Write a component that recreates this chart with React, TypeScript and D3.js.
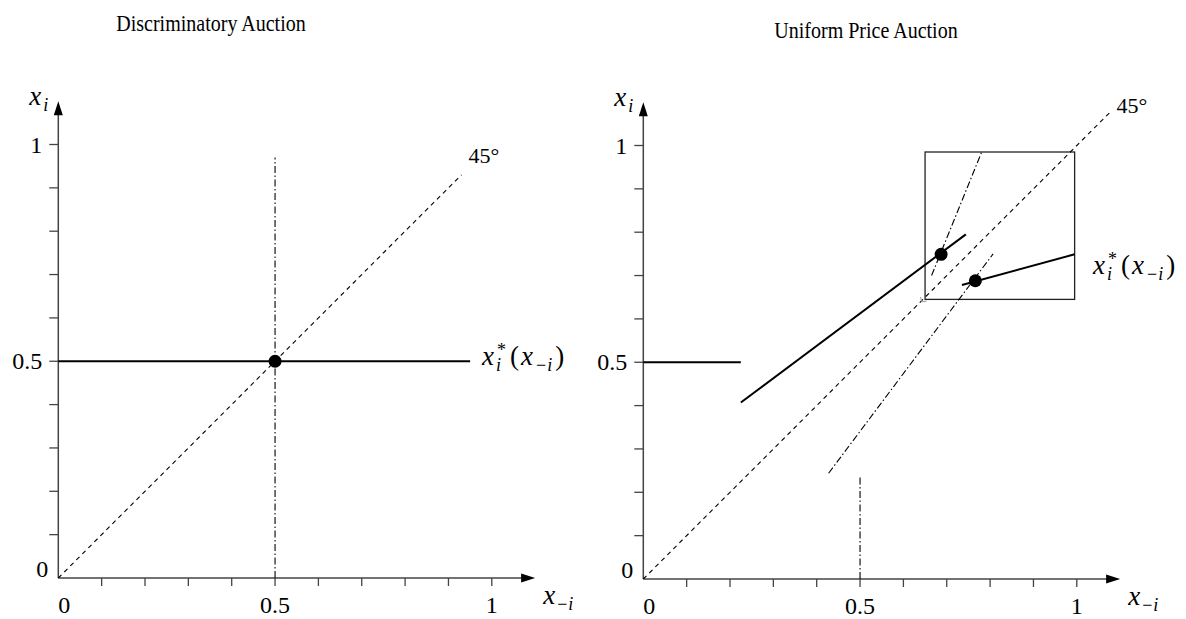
import React from "react";
import * as d3 from "d3";

// Axis ticks and labelled values (shared by both panels)
const minorTicks = [0.1, 0.2, 0.3, 0.4, 0.5, 0.6, 0.7, 0.8, 0.9, 1.0];
const tickLabels = [0, 0.5, 1];
const axisEnd = 1.1;

// Discriminatory auction
const leftDiagonal: [number, number][] = [[0, 0], [0.93, 0.93]];
const leftReaction: [number, number][] = [[0, 0.5], [0.95, 0.5]];
const leftVertical: [number, number][] = [[0.5, 0], [0.5, 0.97]];
const leftEquilibria: [number, number][] = [[0.5, 0.5]];

// Uniform price auction
const rightDiagonal: [number, number][] = [[0, 0], [1.08, 1.08]];
const rightFlat: [number, number][] = [[0, 0.5], [0.225, 0.5]];
const rightRising: [number, number][] = [[0.225, 0.407], [0.744, 0.795]];
const rightShallow: [number, number][] = [[0.735, 0.678], [0.995, 0.749]];
const rightSteepA: [number, number][] = [[0.665, 0.7], [0.781, 0.986]];
const rightSteepB: [number, number][] = [[0.4275, 0.244], [0.807, 0.75]];
const rightVertical: [number, number][] = [[0.5, 0], [0.5, 0.235]];
const rightEquilibria: [number, number][] = [[0.687, 0.749], [0.766, 0.688]];
const rightBox = [0.65, 0.645, 0.995, 0.985]; // x0, y0, x1, y1
const rightCornerMark: [number, number] = [0.642, 0.639];

const UNIT = 433.5;
const SERIF = "'Liberation Serif', 'Times New Roman', serif";
const AXIS = "#444";
const DASH = "4.5,4";
const DASHDOT = "7,2.5,1.5,2.5";
const MATH = 27;
const SUB = 18;

type Scales = { x: d3.ScaleLinear<number, number>; y: d3.ScaleLinear<number, number> };

function makeScales(ox: number, oy: number): Scales {
  return {
    x: d3.scaleLinear().domain([0, 1]).range([ox, ox + UNIT]),
    y: d3.scaleLinear().domain([0, 1]).range([oy, oy - UNIT]),
  };
}

function Seg({ s, pts, dash, width = 1.1, color = "#000" }: { s: Scales; pts: [number, number][]; dash?: string; width?: number; color?: string }) {
  const line = d3.line<[number, number]>().x((d) => s.x(d[0])).y((d) => s.y(d[1]));
  return <path d={line(pts) || ""} fill="none" stroke={color} strokeWidth={width} strokeDasharray={dash} />;
}

function Axes({ s }: { s: Scales }) {
  const x0 = s.x(0), y0 = s.y(0);
  const xe = s.x(axisEnd), ye = s.y(axisEnd);
  return (
    <g>
      <line x1={x0} y1={y0} x2={xe - 10} y2={y0} stroke={AXIS} strokeWidth={1.5} />
      <line x1={x0} y1={y0} x2={x0} y2={ye + 10} stroke={AXIS} strokeWidth={1.5} />
      <path d={`M${xe},${y0} L${xe - 14},${y0 - 4.5} L${xe - 14},${y0 + 4.5} Z`} fill="#000" />
      <path d={`M${x0},${ye} L${x0 - 4.5},${ye + 14} L${x0 + 4.5},${ye + 14} Z`} fill="#000" />
      {minorTicks.map((t) => (
        <g key={t}>
          <line x1={s.x(t)} y1={y0} x2={s.x(t)} y2={y0 + 8} stroke={AXIS} strokeWidth={1.3} />
          <line x1={x0 - 9} y1={s.y(t)} x2={x0} y2={s.y(t)} stroke={AXIS} strokeWidth={1.3} />
        </g>
      ))}
      {tickLabels.map((t) => (
        <text key={"x" + t} x={t === 0 ? x0 + 6 : s.x(t)} y={y0 + 35} fontSize={24} fontFamily={SERIF} textAnchor="middle">
          {t}
        </text>
      ))}
      {tickLabels.map((t) => (
        <text key={"y" + t} x={t === 0 ? x0 - 10 : x0 - 16} y={t === 0 ? y0 - 1 : s.y(t) + 8} fontSize={24} fontFamily={SERIF} textAnchor="end">
          {t}
        </text>
      ))}
      <text x={xe + 8} y={y0 + 26} fontFamily={SERIF} fontSize={MATH}>
        <tspan fontStyle="italic">x</tspan>
        <tspan fontSize={SUB} dx={2} dy={6}>−</tspan>
        <tspan fontSize={SUB} fontStyle="italic" dx={1}>i</tspan>
      </text>
      <text x={x0 - 29} y={ye + 4} fontFamily={SERIF} fontSize={MATH}>
        <tspan fontStyle="italic">x</tspan>
        <tspan fontSize={SUB} fontStyle="italic" dx={2} dy={6}>i</tspan>
      </text>
    </g>
  );
}

function ReactionLabel({ x, y }: { x: number; y: number }) {
  return (
    <g>
      <text x={x} y={y} fontFamily={SERIF} fontSize={MATH}>
        <tspan fontStyle="italic">x</tspan>
        <tspan fontSize={SUB} fontStyle="italic" dx={2} dy={6}>i</tspan>
        <tspan dx={9} dy={-6}>(</tspan>
        <tspan fontStyle="italic" dx={2}>x</tspan>
        <tspan fontSize={SUB} dx={3} dy={6}>−</tspan>
        <tspan fontSize={SUB} fontStyle="italic" dx={1}>i</tspan>
        <tspan dx={3} dy={-6}>)</tspan>
      </text>
      <text x={x + 15} y={y - 9} fontFamily={SERIF} fontSize={SUB}>
        *
      </text>
    </g>
  );
}

export default function App() {
  const L = makeScales(58.3, 578);
  const R = makeScales(643.3, 579);
  return (
    <svg width={1186} height={619} style={{ position: "absolute", left: 0, top: 0, background: "#fff" }}>
      <text
        transform="translate(211,31) scale(0.87,1)"
        fontFamily={SERIF}
        fontSize={23}
        textAnchor="middle"
      >
        Discriminatory Auction
      </text>
      <text
        transform="translate(866,38) scale(0.87,1)"
        fontFamily={SERIF}
        fontSize={23}
        textAnchor="middle"
      >
        Uniform Price Auction
      </text>

      {/* left panel */}
      <Axes s={L} />
      <Seg s={L} pts={leftDiagonal} dash={DASH} />
      <Seg s={L} pts={leftVertical} dash={DASHDOT} />
      <Seg s={L} pts={leftReaction} width={2} />
      {leftEquilibria.map((p, i) => (
        <circle key={i} cx={L.x(p[0])} cy={L.y(p[1])} r={6.5} fill="#000" />
      ))}
      <text x={L.x(leftDiagonal[1][0]) + 7} y={L.y(leftDiagonal[1][1]) - 12} fontFamily={SERIF} fontSize={22}>
        45°
      </text>
      <ReactionLabel x={482} y={365} />

      {/* right panel */}
      <Axes s={R} />
      <rect
        x={R.x(rightBox[0])}
        y={R.y(rightBox[3])}
        width={R.x(rightBox[2]) - R.x(rightBox[0])}
        height={R.y(rightBox[1]) - R.y(rightBox[3])}
        fill="none"
        stroke="#222"
        strokeWidth={1.3}
      />
      <Seg s={R} pts={rightDiagonal} dash={DASH} />
      <Seg s={R} pts={rightSteepA} dash={DASHDOT} />
      <Seg s={R} pts={rightSteepB} dash={DASHDOT} />
      <Seg s={R} pts={rightVertical} dash={DASHDOT} />
      <Seg s={R} pts={rightFlat} width={2} />
      <Seg s={R} pts={rightRising} width={2} />
      <Seg s={R} pts={rightShallow} width={2} />
      {rightEquilibria.map((p, i) => (
        <circle key={i} cx={R.x(p[0])} cy={R.y(p[1])} r={6.5} fill="#000" />
      ))}
      <path
        d={`M${R.x(rightCornerMark[0]) - 1},${R.y(rightCornerMark[1]) - 5} L${R.x(rightCornerMark[0])},${R.y(rightCornerMark[1])} L${R.x(rightCornerMark[0]) + 5},${R.y(rightCornerMark[1]) - 1}`}
        fill="none"
        stroke="#999"
        strokeWidth={1}
      />
      <text x={R.x(rightDiagonal[1][0]) + 5} y={R.y(rightDiagonal[1][1]) + 2} fontFamily={SERIF} fontSize={22}>
        45°
      </text>
      <ReactionLabel x={1093} y={274} />
    </svg>
  );
}
